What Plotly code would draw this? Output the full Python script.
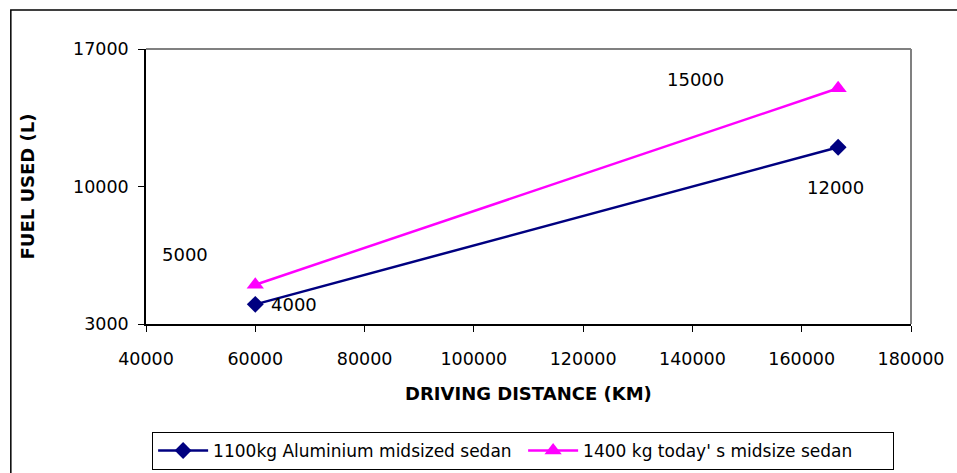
import plotly.graph_objects as go

# Data
distance_km = [60000, 166667]
alu_fuel = [4000, 12000]
steel_fuel = [5000, 15000]
series_names = ["1100kg Aluminium midsized sedan", "1400 kg today' s midsize sedan"]
x_ticks = [40000, 60000, 80000, 100000, 120000, 140000, 160000, 180000]
y_ticks = [3000, 10000, 17000]

NAVY = "#000080"
MAGENTA = "#FF00FF"
FONT = "DejaVu Sans, Arial, sans-serif"
FS = 18
FT = 17.5
FL = 17

fig = go.Figure()
fig.add_trace(go.Scatter(
    x=distance_km, y=alu_fuel, mode="lines+markers", name=series_names[0],
    line=dict(color=NAVY, width=2.5),
    marker=dict(symbol="diamond", size=13, color=NAVY),
))
fig.add_trace(go.Scatter(
    x=distance_km, y=steel_fuel, mode="lines+markers", name=series_names[1],
    line=dict(color=MAGENTA, width=2.5),
    marker=dict(symbol="triangle-up", size=15, color=MAGENTA),
))

# data labels (Excel-style placements)
alu_offsets = [(39, 0), (-3, -40)]
steel_offsets = [(-70, 30), (-143, 9)]
anns = []
for xv, yv, (dx, dy) in zip(distance_km, alu_fuel, alu_offsets):
    anns.append(dict(x=xv, y=yv, xref="x", yref="y", text=str(yv), showarrow=False,
                     xanchor="center", yanchor="middle",
                     xshift=dx, yshift=dy, font=dict(size=FS, color="black", family=FONT)))
for xv, yv, (dx, dy) in zip(distance_km, steel_fuel, steel_offsets):
    anns.append(dict(x=xv, y=yv, xref="x", yref="y", text=str(yv), showarrow=False,
                     xanchor="center", yanchor="middle",
                     xshift=dx, yshift=dy, font=dict(size=FS, color="black", family=FONT)))

# axis titles
anns.append(dict(x=0.5, y=0, xref="paper", yref="paper", text="<b>DRIVING DISTANCE (KM)</b>",
                 showarrow=False, xanchor="center", yanchor="middle", yshift=-69,
                 font=dict(size=FS, color="black", family=FONT)))
anns.append(dict(x=0, y=0.5, xref="paper", yref="paper", text="<b>FUEL USED (L)</b>",
                 showarrow=False, xanchor="center", yanchor="middle", xshift=-119, textangle=-90,
                 font=dict(size=FS, color="black", family=FONT)))

shapes = [
    # plot area top/right border (gray)
    dict(type="line", xref="paper", yref="paper", x0=0, x1=1, y0=1, y1=1,
         line=dict(color="#808080", width=2)),
    dict(type="line", xref="paper", yref="paper", x0=1, x1=1, y0=0, y1=1,
         line=dict(color="#808080", width=2)),
    # outer chart border
    dict(type="rect", xref="paper", yref="paper", x0=-0.1767, x1=2, y0=-1, y1=1.1418,
         line=dict(color="black", width=1.5), fillcolor="rgba(0,0,0,0)"),
]

fig.update_layout(
    width=957, height=473,
    margin=dict(l=146, r=46, t=49, b=149, autoexpand=False),
    paper_bgcolor="white", plot_bgcolor="white",
    font=dict(family=FONT, size=FS, color="black"),
    showlegend=True,
    legend=dict(orientation="h", x=0.008, xanchor="left", y=-0.3927, yanchor="top",
                bordercolor="black", borderwidth=1, font=dict(size=FL, family=FONT),
                itemwidth=50, tracegroupgap=0, entrywidth=305, entrywidthmode="pixels"),
    annotations=anns,
    shapes=shapes,
)
fig.update_xaxes(range=[40000, 180000], tickvals=x_ticks, ticktext=[str(v) for v in x_ticks],
                 showgrid=False, zeroline=False, showline=True, linecolor="black", linewidth=1.5,
                 ticks="outside", ticklen=6, tickcolor="black", tickfont=dict(size=FT),
                 ticklabelstandoff=12)
fig.update_yaxes(range=[3000, 17000], tickvals=y_ticks, ticktext=[str(v) for v in y_ticks],
                 showgrid=False, zeroline=False, showline=True, linecolor="black", linewidth=1.5,
                 ticks="outside", ticklen=6, tickcolor="black", tickfont=dict(size=FT),
                 ticklabelstandoff=6)

fig.write_html("out.html")
